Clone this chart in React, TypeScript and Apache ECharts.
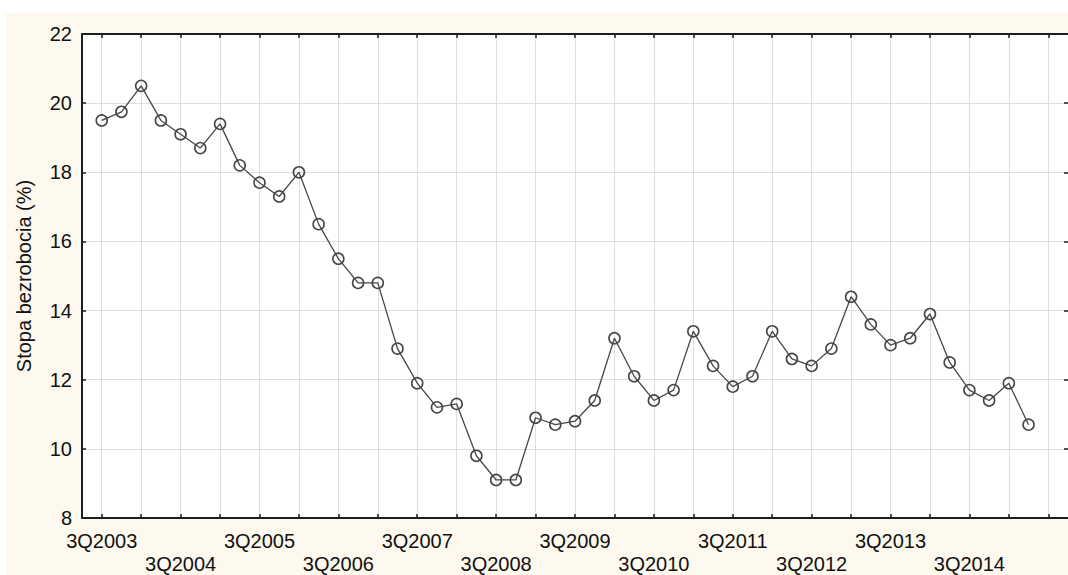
import { useEffect, useRef } from "react";
import * as echarts from "echarts";

// Quarterly unemployment rate (%), 3Q2003 .. 2Q2015
const unemployment: number[] = [
  19.5, 19.75, 20.5, 19.5, 19.1, 18.7, 19.4, 18.2, 17.7, 17.3,
  18.0, 16.5, 15.5, 14.8, 14.8, 12.9, 11.9, 11.2, 11.3, 9.8,
  9.1, 9.1, 10.9, 10.7, 10.8, 11.4, 13.2, 12.1, 11.4, 11.7,
  13.4, 12.4, 11.8, 12.1, 13.4, 12.6, 12.4, 12.9, 14.4, 13.6,
  13.0, 13.2, 13.9, 12.5, 11.7, 11.4, 11.9, 10.7,
];

// Labelled quarters on the horizontal axis
const yearTicks: string[] = [
  "3Q2003", "3Q2004", "3Q2005", "3Q2006", "3Q2007", "3Q2008",
  "3Q2009", "3Q2010", "3Q2011", "3Q2012", "3Q2013", "3Q2014",
];

const yMin = 8;
const yMax = 22;
const yStep = 2;

// Axis runs one quarter before the first observation (2Q2003) to 4Q2015
const firstYear = 2003;
const firstQuarter = 2;
const quarterCount = 51;
const quarters: string[] = Array.from({ length: quarterCount }, (_, k) => {
  const n = firstQuarter - 1 + k;
  return `${(n % 4) + 1}Q${firstYear + Math.floor(n / 4)}`;
});

const INK = "#1e1e1e";
const LINE = "#474747";
const GRID = "#dedede";
const FONT = "Liberation Sans, Arial, sans-serif";

export default function App() {
  const ref = useRef<HTMLDivElement>(null);

  useEffect(() => {
    if (!ref.current) return;
    const chart = echarts.init(ref.current, undefined, { renderer: "svg" });
    const offset = quarters.indexOf(yearTicks[0]);
    const seriesData = unemployment.map((v, i) => [i + offset, v]);
    const isGridTick = (index: number) => (index - offset) % 2 === 0 && index >= offset;

    chart.setOption({
      animation: false,
      backgroundColor: "#fdf9ee",
      textStyle: { fontFamily: FONT },
      grid: { left: 76, top: 21, right: 0, bottom: 57, containLabel: false,
        show: true, backgroundColor: "#ffffff", borderWidth: 0 },
      xAxis: [
        {
          type: "category",
          data: quarters,
          boundaryGap: false,
          position: "bottom",
          axisLine: { show: true, lineStyle: { color: INK, width: 2 } },
          axisTick: { show: true, inside: true, length: 4, interval: isGridTick,
            lineStyle: { color: INK, width: 1.5 } },
          splitLine: { show: true, interval: isGridTick, lineStyle: { color: GRID, width: 1 } },
          axisLabel: {
            show: true,
            interval: (_i: number, value: string) => yearTicks.includes(value),
            formatter: (value: string) => {
              const n = yearTicks.indexOf(value);
              return n % 2 === 1 ? "\n" + value : value;
            },
            color: "#111111",
            fontSize: 20,
            lineHeight: 23,
            margin: 11,
            fontFamily: FONT,
          },
        },
        {
          type: "category",
          data: quarters,
          boundaryGap: false,
          position: "top",
          axisLine: { show: true, lineStyle: { color: INK, width: 2 } },
          axisTick: { show: true, inside: true, length: 4, interval: isGridTick,
            lineStyle: { color: INK, width: 1.5 } },
          axisLabel: { show: false },
          splitLine: { show: false },
        },
      ],
      yAxis: [
        {
          type: "value",
          min: yMin,
          max: yMax,
          interval: yStep,
          position: "left",
          name: "Stopa bezrobocia (%)",
          nameLocation: "middle",
          nameGap: 48,
          nameTextStyle: { color: "#111111", fontSize: 20, fontFamily: FONT },
          axisLine: { show: true, lineStyle: { color: INK, width: 2 } },
          axisTick: { show: true, inside: true, length: 4, lineStyle: { color: INK, width: 1.5 } },
          splitLine: { show: true, lineStyle: { color: GRID, width: 1 } },
          axisLabel: { color: "#111111", fontSize: 20, margin: 10, fontFamily: FONT },
        },
        {
          type: "value",
          min: yMin,
          max: yMax,
          interval: yStep,
          position: "right",
          axisLine: { show: false },
          axisTick: { show: true, inside: true, length: 4, lineStyle: { color: INK, width: 1.5 } },
          axisLabel: { show: false },
          splitLine: { show: false },
        },
      ],
      series: [
        {
          type: "line",
          xAxisIndex: 0,
          yAxisIndex: 0,
          data: seriesData,
          symbol: "circle",
          symbolSize: 11,
          lineStyle: { color: LINE, width: 1.3 },
          itemStyle: { color: "rgba(255,255,255,0)", borderColor: LINE, borderWidth: 1.6 },
          emphasis: { disabled: true },
        },
      ],
    });

    return () => chart.dispose();
  }, []);

  return (
    <div style={{ position: "absolute", left: 0, top: 0, width: 1068, height: 575, background: "#ffffff" }}>
      <div ref={ref} style={{ position: "absolute", left: 6, top: 13, width: 1062, height: 562 }} />
    </div>
  );
}
